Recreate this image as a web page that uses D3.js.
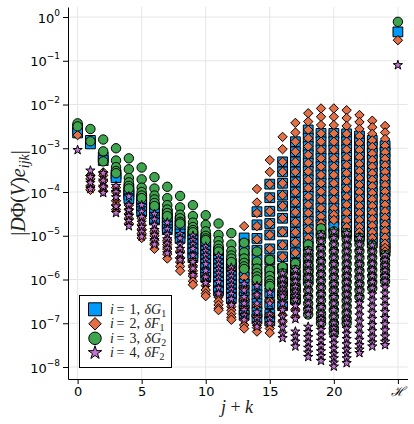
<!DOCTYPE html>
<html>
<head>
<meta charset="utf-8">
<script src="https://cdn.jsdelivr.net/npm/d3@7"></script>
<style>
body { margin: 0; background: #fff; }
</style>
</head>
<body>
<script>
// x positions (j + k); the last one is the H column
var xCols = [0, 1, 2, 3, 4, 5, 6, 7, 8, 9, 10, 11, 12, 13, 14, 15, 16, 17, 18, 19, 20, 21, 22, 23, 24, 25];
var xTicks = [0, 5, 10, 15, 20, 25];
var xTickLabels = ['0', '5', '10', '15', '20', '\u210B'];
var yTickExps = [0, -1, -2, -3, -4, -5, -6, -7, -8];

// log10 |DPhi(V) e_ijk| per column, one list per series
var logG1 = [
  [-2.55, -2.65], [-2.82, -2.9], [-3.2, -3.28], [-3.6, -3.67],
  [-3.92, -4.0, -4.07, -4.15], [-4.15, -4.22, -4.3, -4.37, -4.45], [-4.35, -4.42, -4.5, -4.58, -4.64],
  [-4.5, -4.6, -4.7, -4.78, -4.86], [-4.66, -4.76, -4.86, -4.96, -5.06],
  [-4.9, -5.0, -5.1, -5.2, -5.3, -5.4, -5.5],
  [-5.05, -5.15, -5.25, -5.35, -5.45, -5.55, -5.65, -5.75, -5.85, -5.95],
  [-5.36, -5.46, -5.56, -5.66, -5.76, -5.86, -5.96, -6.06, -6.16, -6.26],
  [-5.63, -5.73, -5.83, -5.93, -6.03, -6.13, -6.23, -6.33, -6.43],
  [-5.05, -5.2, -5.35, -5.5, -5.65, -5.8, -5.95, -6.1, -6.25, -6.4, -6.55, -6.7, -6.82],
  [-4.45, -4.75, -5.06, -5.33, -5.55, -5.75, -5.95, -6.15, -6.35, -6.55, -6.75, -6.9],
  [-3.82, -4.13, -4.44, -4.72, -4.98, -5.3, -5.55, -5.8, -6.05, -6.3, -6.55, -6.8, -6.95],
  [-3.31, -3.54, -3.8, -4.07, -4.32, -4.6, -4.91, -5.21, -5.48, -5.75, -6.05, -6.35, -6.6],
  [-2.85, -3.08, -3.31, -3.54, -3.77, -4.0, -4.23, -4.46, -4.69, -4.92, -5.15, -5.39, -5.63, -5.9, -6.2, -6.45],
  [-2.58, -2.77, -2.96, -3.15, -3.34, -3.53, -3.72, -3.91, -4.1, -4.29, -4.48, -4.67, -4.86, -5.05, -5.25, -5.5, -5.75, -6.0],
  [-2.66, -2.85, -3.04, -3.23, -3.42, -3.61, -3.8, -3.99, -4.18, -4.37, -4.56, -4.75, -4.95],
  [-2.66, -2.85, -3.04, -3.23, -3.42, -3.61, -3.8, -3.99, -4.18, -4.37, -4.52, -4.64, -4.8, -4.95],
  [-2.67, -2.85, -3.03, -3.21, -3.39, -3.57, -3.75, -3.93, -4.11, -4.29, -4.47, -4.65, -4.8, -4.92],
  [-2.72, -2.88, -3.04, -3.2, -3.36, -3.52, -3.68, -3.84, -4.0, -4.16, -4.32, -4.48, -4.64, -4.8, -4.92, -5.02],
  [-2.82, -2.97, -3.12, -3.27, -3.42, -3.57, -3.72, -3.87, -4.02, -4.17, -4.32, -4.47, -4.62, -4.77, -4.92, -5.05, -5.17],
  [-2.94, -3.09, -3.24, -3.39, -3.54, -3.69, -3.84, -3.99, -4.14, -4.29, -4.44, -4.59, -4.74, -4.89, -5.04, -5.18, -5.28, -5.36],
  [-0.34]
];
var logF1 = [
  [-2.7], [-3.62, -3.7, -3.86, -3.95], [-3.55, -3.62, -3.75, -3.88, -3.98], [-3.9, -4.0, -4.2, -4.3, -4.4],
  [-4.3, -4.4, -4.5, -4.6, -4.72], [-4.6, -4.75, -4.85, -4.95, -5.05], [-4.9, -5.0, -5.1, -5.2, -5.3],
  [-5.1, -5.2, -5.3, -5.42, -5.52], [-5.35, -5.5, -5.6, -5.7, -5.8],
  [-5.55, -5.68, -5.8, -5.92, -6.04, -6.12],
  [-5.94, -6.04, -6.14, -6.24, -6.32, -6.38],
  [-6.31, -6.4, -6.5, -6.58, -6.66, -6.7],
  [-5.78, -6.54, -6.62, -6.7, -6.78, -6.86, -6.92],
  [-4.78, -5.95, -6.2, -6.45, -6.65, -6.8, -6.92, -7.04, -7.12],
  [-3.93, -4.24, -4.48, -4.78, -5.08, -5.35, -5.6, -5.85, -6.1, -6.35, -6.6, -6.85, -7.0, -7.1, -7.19],
  [-3.27, -3.54, -3.82, -4.13, -4.44, -4.72, -4.98, -5.3, -5.6, -5.9, -6.2, -6.5, -6.8, -7.0, -7.12, -7.22],
  [-2.74, -3.02, -3.31, -3.54, -3.8, -4.07, -4.32, -4.6, -4.91, -5.21, -5.48, -5.75, -6.05, -6.35, -6.66, -6.81, -6.96],
  [-2.42, -2.64, -2.85, -3.08, -3.31, -3.54, -3.77, -4.0, -4.23, -4.46, -4.69, -4.92, -5.15, -5.39, -5.63, -5.9, -6.2, -6.5, -6.68, -6.85],
  [-2.2, -2.39, -2.58, -2.77, -2.96, -3.15, -3.34, -3.53, -3.72, -3.91, -4.1, -4.29, -4.48, -4.67, -4.86, -5.05, -5.18],
  [-2.09, -2.28, -2.47, -2.66, -2.85, -3.04, -3.23, -3.42, -3.61, -3.8, -3.99, -4.18, -4.37, -4.56, -4.72],
  [-2.09, -2.28, -2.47, -2.66, -2.85, -3.04, -3.23, -3.42, -3.61, -3.8, -3.99, -4.18, -4.37, -4.52, -4.64],
  [-2.13, -2.31, -2.49, -2.67, -2.85, -3.03, -3.21, -3.39, -3.57, -3.75, -3.93, -4.11, -4.29, -4.47, -4.65, -4.8],
  [-2.24, -2.4, -2.56, -2.72, -2.88, -3.04, -3.2, -3.36, -3.52, -3.68, -3.84, -4.0, -4.16, -4.32, -4.48, -4.64, -4.8, -4.92, -5.02],
  [-2.37, -2.52, -2.67, -2.82, -2.97, -3.12, -3.27, -3.42, -3.57, -3.72, -3.87, -4.02, -4.17, -4.32, -4.47, -4.62, -4.77, -4.92, -5.05, -5.17],
  [-2.49, -2.64, -2.79, -2.94, -3.09, -3.24, -3.39, -3.54, -3.69, -3.84, -3.99, -4.14, -4.29, -4.44, -4.59, -4.74, -4.89, -5.04, -5.18, -5.28, -5.36],
  [-0.53]
];
var logG2 = [
  [-2.43, -2.5], [-2.56, -2.84], [-2.8, -3.07, -3.3], [-3.0, -3.28, -3.43, -3.52, -3.57],
  [-3.23, -3.48, -3.68, -3.78, -3.86, -3.92], [-3.44, -3.71, -3.9, -4.0, -4.08, -4.14],
  [-3.66, -3.92, -4.08, -4.17, -4.25, -4.32], [-3.88, -4.14, -4.3, -4.4, -4.48, -4.55],
  [-4.09, -4.35, -4.52, -4.6, -4.68, -4.72], [-4.3, -4.55, -4.7, -4.8, -4.87, -4.92],
  [-4.53, -4.75, -4.9, -5.0, -5.06, -5.1], [-4.72, -4.98, -5.12, -5.22, -5.3, -5.36],
  [-4.94, -5.2, -5.35, -5.45, -5.52, -5.6], [-5.16, -5.38, -5.52, -5.62, -5.7, -5.76],
  [-5.36, -5.59, -5.75, -5.85, -5.93, -6.0], [-5.55, -5.78, -5.92, -6.02, -6.1, -6.15],
  [-5.71, -5.86, -6.0, -6.12, -6.23, -6.32, -6.39],
  [-5.63, -5.78, -5.92, -6.05, -6.17, -6.28, -6.38, -6.47],
  [-5.2, -5.35, -5.5, -5.65, -5.8, -5.95, -6.1, -6.25, -6.4, -6.55, -6.68, -6.8],
  [-4.83, -4.98, -5.13, -5.28, -5.43, -5.58, -5.73, -5.88, -6.03, -6.18, -6.33, -6.48, -6.63, -6.78, -6.9, -7.0],
  [-4.9, -5.05, -5.2, -5.35, -5.5, -5.65, -5.8, -5.95, -6.1, -6.25, -6.4, -6.55, -6.7, -6.85, -7.0, -7.12, -7.22],
  [-4.94, -5.08, -5.22, -5.36, -5.5, -5.64, -5.78, -5.92, -6.06, -6.2, -6.34, -6.48, -6.62, -6.76, -6.9, -7.0],
  [-5.05, -5.2, -5.35, -5.5, -5.65, -5.8, -5.95, -6.1, -6.25, -6.4],
  [-5.22, -5.36, -5.5, -5.64, -5.78, -5.92, -6.06, -6.2],
  [-5.44, -5.56, -5.68, -5.8, -5.92, -6.04],
  [-0.11]
];
var logF2 = [
  [-3.04], [-3.51, -3.66, -3.79, -3.93], [-3.57, -3.74, -3.88, -4.02], [-3.86, -4.0, -4.12, -4.33, -4.48],
  [-4.1, -4.3, -4.42, -4.55, -4.66, -4.78], [-4.3, -4.45, -4.57, -4.7, -4.8, -4.91, -5.02],
  [-4.5, -4.63, -4.75, -4.87, -4.98, -5.1, -5.2], [-4.7, -4.85, -4.97, -5.08, -5.18, -5.29, -5.4],
  [-4.96, -5.06, -5.2, -5.3, -5.42, -5.55],
  [-5.0, -5.1, -5.2, -5.3, -5.45, -5.6, -5.75, -5.9],
  [-5.25, -5.35, -5.45, -5.55, -5.65, -5.8, -5.95, -6.08],
  [-5.46, -5.56, -5.66, -5.76, -5.86, -5.96, -6.06, -6.2, -6.32],
  [-5.73, -5.83, -5.93, -6.03, -6.13, -6.23, -6.33, -6.45, -6.58],
  [-6.1, -6.25, -6.4, -6.55, -6.7, -6.82, -6.92],
  [-6.15, -6.35, -6.55, -6.75, -6.9, -7.0, -7.08],
  [-6.3, -6.55, -6.8, -6.9, -7.0],
  [-5.86, -6.0, -6.12, -6.23, -6.32, -6.39, -6.55, -6.7, -6.85, -6.96, -7.1, -7.24, -7.34],
  [-5.78, -5.92, -6.05, -6.17, -6.28, -6.38, -6.47, -6.6, -6.75, -6.9, -7.19, -7.3, -7.42, -7.53],
  [-5.35, -5.5, -5.65, -5.8, -5.95, -6.1, -6.25, -6.4, -6.55, -6.68, -6.8, -7.08, -7.2, -7.32, -7.44, -7.56, -7.67, -7.77],
  [-4.98, -5.13, -5.28, -5.43, -5.58, -5.73, -5.88, -6.03, -6.18, -6.33, -6.48, -6.63, -6.78, -6.9, -7.0, -7.15, -7.28, -7.4, -7.52, -7.64, -7.75, -7.86],
  [-4.9, -5.05, -5.2, -5.35, -5.5, -5.65, -5.8, -5.95, -6.1, -6.25, -6.4, -6.55, -6.7, -6.85, -7.0, -7.12, -7.22, -7.34, -7.46, -7.58, -7.7, -7.8, -7.9, -7.99],
  [-4.94, -5.08, -5.22, -5.36, -5.5, -5.64, -5.78, -5.92, -6.06, -6.2, -6.34, -6.48, -6.62, -6.76, -6.9, -7.0, -7.12, -7.24, -7.36, -7.48, -7.6, -7.7, -7.8, -7.91],
  [-5.05, -5.2, -5.35, -5.5, -5.65, -5.8, -5.95, -6.1, -6.25, -6.4, -6.54, -6.68, -6.82, -6.96, -7.1, -7.24, -7.38, -7.5, -7.6, -7.68],
  [-5.22, -5.36, -5.5, -5.64, -5.78, -5.92, -6.06, -6.2, -6.34, -6.48, -6.62, -6.76, -6.9, -7.04, -7.18, -7.32, -7.44, -7.53],
  [-5.44, -5.56, -5.68, -5.8, -5.92, -6.04, -6.18, -6.32, -6.46, -6.6, -6.74, -6.88, -7.02, -7.16, -7.3, -7.42, -7.5],
  [-1.1]
];

var series = [
  { data: logG1, color: '#009AFA', shape: 'square', idx: '1', sym: 'G', sub: '1' },
  { data: logF1, color: '#E36F47', shape: 'diamond', idx: '2', sym: 'F', sub: '1' },
  { data: logG2, color: '#3EA44E', shape: 'circle', idx: '3', sym: 'G', sub: '2' },
  { data: logF2, color: '#C371D2', shape: 'star', idx: '4', sym: 'F', sub: '2' }
];

var width = 414;
var height = 424;
var plotLeft = 68, plotRight = 407.5, plotTop = 7, plotBottom = 379;

var svg = d3.select('body').append('svg')
    .attr('width', width)
    .attr('height', height);

var x = d3.scaleLinear().domain([-0.75, 25.75]).range([plotLeft, plotRight]);
var y = d3.scaleLog().domain([Math.pow(10, -8.274), Math.pow(10, 0.229)]).range([plotBottom, plotTop]);

// s ~ marker width in px
function shapePath(shape, s) {
    if (shape === 'square') return d3.symbol(d3.symbolSquare, s * s * 1.08)();
    if (shape === 'circle') return d3.symbol(d3.symbolCircle, Math.PI * s * s / 4)();
    if (shape === 'diamond') {
        var r = s * 0.5;
        return 'M0,' + (-r) + 'L' + r + ',0L0,' + r + 'L' + (-r) + ',0Z';
    }
    var R = s * 0.52;
    return d3.symbol(d3.symbolStar, R * R / 0.8908130915292852)();
}

// grid
var grid = svg.append('g').attr('stroke', '#e6e6e6').attr('stroke-width', 1);
grid.selectAll('line.v').data(xTicks).enter().append('line')
    .attr('x1', function (d) { return x(d); }).attr('x2', function (d) { return x(d); })
    .attr('y1', plotTop).attr('y2', plotBottom);
grid.selectAll('line.h').data(yTickExps).enter().append('line')
    .attr('x1', plotLeft).attr('x2', plotRight)
    .attr('y1', function (d) { return y(Math.pow(10, d)); })
    .attr('y2', function (d) { return y(Math.pow(10, d)); });

// axes
var gy = svg.append('g')
    .attr('transform', 'translate(' + plotLeft + ',0)')
    .call(d3.axisLeft(y)
        .tickValues(yTickExps.map(function (e) { return Math.pow(10, e); }))
        .tickSize(5).tickSizeOuter(0).tickFormat(''));
gy.selectAll('.tick text').each(function (d, i) {
    var e = yTickExps[i];
    var t = d3.select(this).attr('dy', null).attr('y', 5)
        .attr('font-family', 'DejaVu Sans').attr('font-size', 13).attr('fill', '#000');
    t.append('tspan').text('10');
    t.append('tspan').attr('dy', -7).attr('font-size', 9).text(e === 0 ? '0' : '\u2212' + (-e));
});

var gx = svg.append('g')
    .attr('transform', 'translate(0,' + plotBottom + ')')
    .call(d3.axisBottom(x).tickValues(xTicks).tickSize(5).tickSizeOuter(0)
        .tickFormat(function (d, i) { return xTickLabels[i]; }));
gx.selectAll('.tick text')
    .attr('font-family', function (d, i) { return i === 5 ? 'DejaVu Serif' : 'DejaVu Sans'; })
    .attr('font-style', function (d, i) { return i === 5 ? 'italic' : null; })
    .attr('font-size', 13).attr('fill', '#000');
svg.selectAll('.domain').attr('stroke', '#000');
svg.selectAll('.tick line').attr('stroke', '#000');

// points, drawn series by series
series.forEach(function (s) {
    var pts = [];
    s.data.forEach(function (col, k) {
        col.forEach(function (v) { pts.push({ x: xCols[k], y: Math.pow(10, v) }); });
    });
    svg.append('g').selectAll('path').data(pts).enter().append('path')
        .attr('transform', function (d) { return 'translate(' + x(d.x) + ',' + y(d.y) + ')'; })
        .attr('d', shapePath(s.shape, 9.4))
        .attr('fill', s.color)
        .attr('stroke', '#000')
        .attr('stroke-width', 1);
});

// legend
var lg = svg.append('g');
lg.append('rect').attr('x', 79.5).attr('y', 295.5).attr('width', 92).attr('height', 72)
    .attr('fill', '#fff').attr('stroke', '#000').attr('stroke-width', 1);
series.forEach(function (s, i) {
    var cy = 309.3 + i * 14.5;
    lg.append('path').attr('transform', 'translate(95,' + cy + ')')
        .attr('d', shapePath(s.shape, s.shape === 'star' ? 13.5 : 12.5))
        .attr('fill', s.color).attr('stroke', '#000').attr('stroke-width', 1);
    var t = lg.append('text').attr('y', cy + 4.5)
        .attr('font-family', 'Liberation Serif').attr('font-size', 14).attr('fill', '#222');
    t.append('tspan').attr('x', 110).attr('font-style', 'italic').text('i');
    t.append('tspan').attr('x', 116.5).text('=');
    t.append('tspan').attr('x', 129.5).text(s.idx + ',');
    t.append('tspan').attr('x', 144.5).attr('font-style', 'italic').text('\u03B4' + s.sym);
    t.append('tspan').attr('dy', 3).attr('font-size', 10).text(s.sub);
});

// axis labels
var xl = svg.append('text').attr('x', 237).attr('y', 413).attr('text-anchor', 'middle')
    .attr('font-family', 'Liberation Serif').attr('font-size', 18).attr('fill', '#222');
xl.append('tspan').attr('font-style', 'italic').text('j');
xl.append('tspan').text(' + ');
xl.append('tspan').attr('font-style', 'italic').text('k');

var yl = svg.append('text').attr('transform', 'translate(25,193) rotate(-90)').attr('text-anchor', 'middle')
    .attr('font-family', 'Liberation Serif').attr('font-size', 20).attr('fill', '#222');
yl.append('tspan').text('|');
yl.append('tspan').attr('font-style', 'italic').text('D');
yl.append('tspan').text('\u03A6(');
yl.append('tspan').attr('font-style', 'italic').text('V');
yl.append('tspan').text(')');
yl.append('tspan').attr('font-style', 'italic').text('e');
yl.append('tspan').attr('font-style', 'italic').attr('font-size', 14).attr('dy', 4).text('ijk');
yl.append('tspan').attr('dy', -4).text('|');
</script>
</body>
</html>
